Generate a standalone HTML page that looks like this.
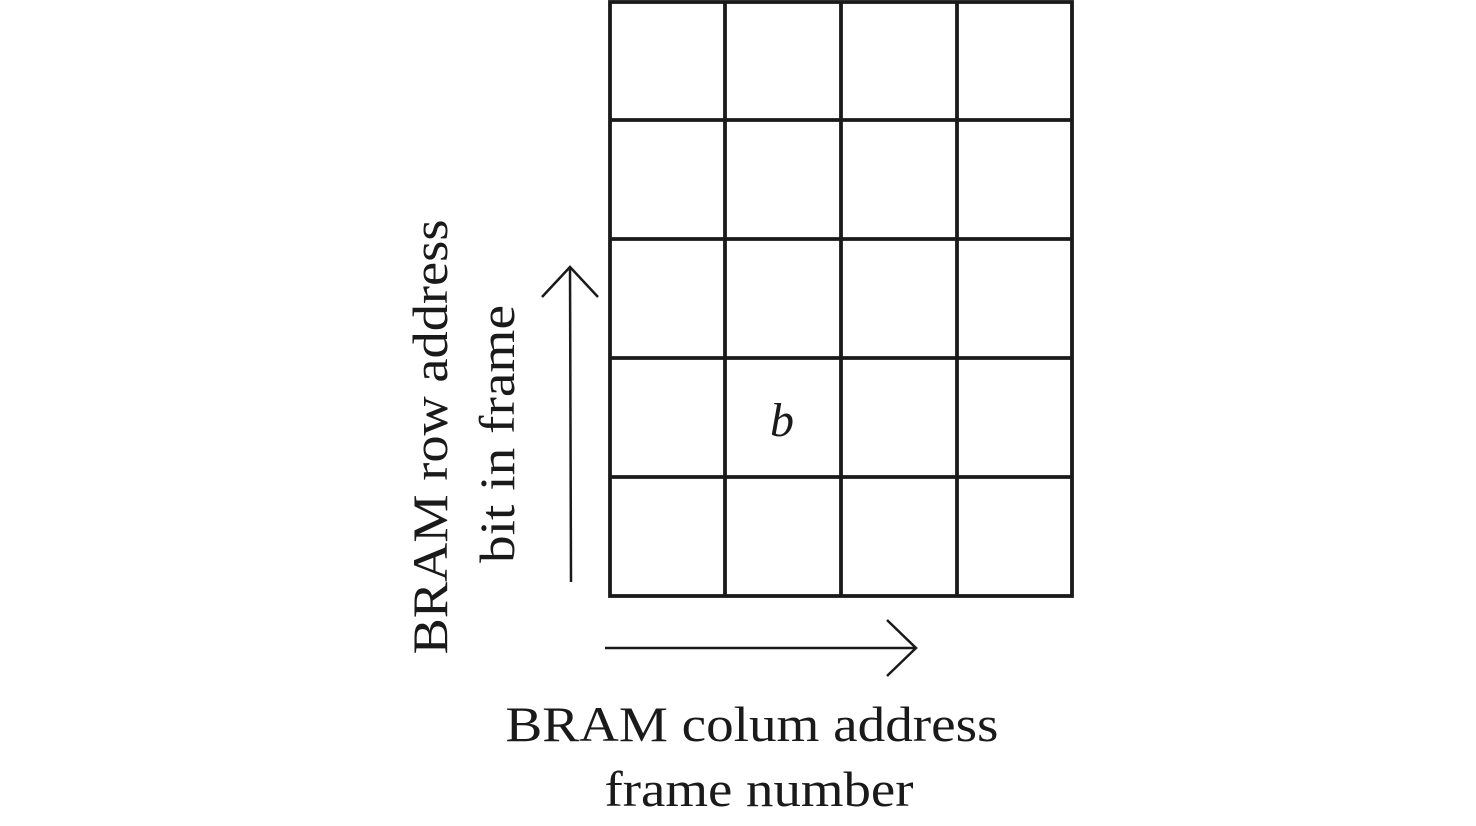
<!DOCTYPE html>
<html><head><meta charset="utf-8"><style>html,body{margin:0;padding:0;background:#fff;}svg{display:block}</style></head>
<body>
<svg width="1476" height="826" viewBox="0 0 1476 826" xmlns="http://www.w3.org/2000/svg">
<g stroke="#1a1a1a" stroke-width="3.8" fill="none">
<rect x="610" y="2" width="462" height="594"/>
<line x1="725" y1="2" x2="725" y2="596"/>
<line x1="841" y1="2" x2="841" y2="596"/>
<line x1="957" y1="2" x2="957" y2="596"/>
<line x1="610" y1="120" x2="1072" y2="120"/>
<line x1="610" y1="239" x2="1072" y2="239"/>
<line x1="610" y1="358" x2="1072" y2="358"/>
<line x1="610" y1="477" x2="1072" y2="477"/>
</g>
<g stroke="#1a1a1a" stroke-width="2.5" fill="none">
<line x1="571" y1="582" x2="570" y2="267"/>
<polyline points="542,297 570,267 598,297"/>
<line x1="605" y1="648" x2="916" y2="648"/>
<polyline points="887,620 916,648 887,676"/>
</g>
<g font-family="'Liberation Serif', serif" font-size="50" fill="#1a1a1a" text-anchor="middle">
<text x="752" y="741" textLength="493" lengthAdjust="spacingAndGlyphs">BRAM colum address</text>
<text x="759" y="806" textLength="309" lengthAdjust="spacingAndGlyphs">frame number</text>
<text transform="translate(447,437) rotate(-90)" textLength="435" lengthAdjust="spacingAndGlyphs">BRAM row address</text>
<text transform="translate(514,434) rotate(-90)" textLength="258" lengthAdjust="spacingAndGlyphs">bit in frame</text>
<text x="782" y="436" font-style="italic" font-size="48">b</text>
</g>
</svg>
</body></html>
